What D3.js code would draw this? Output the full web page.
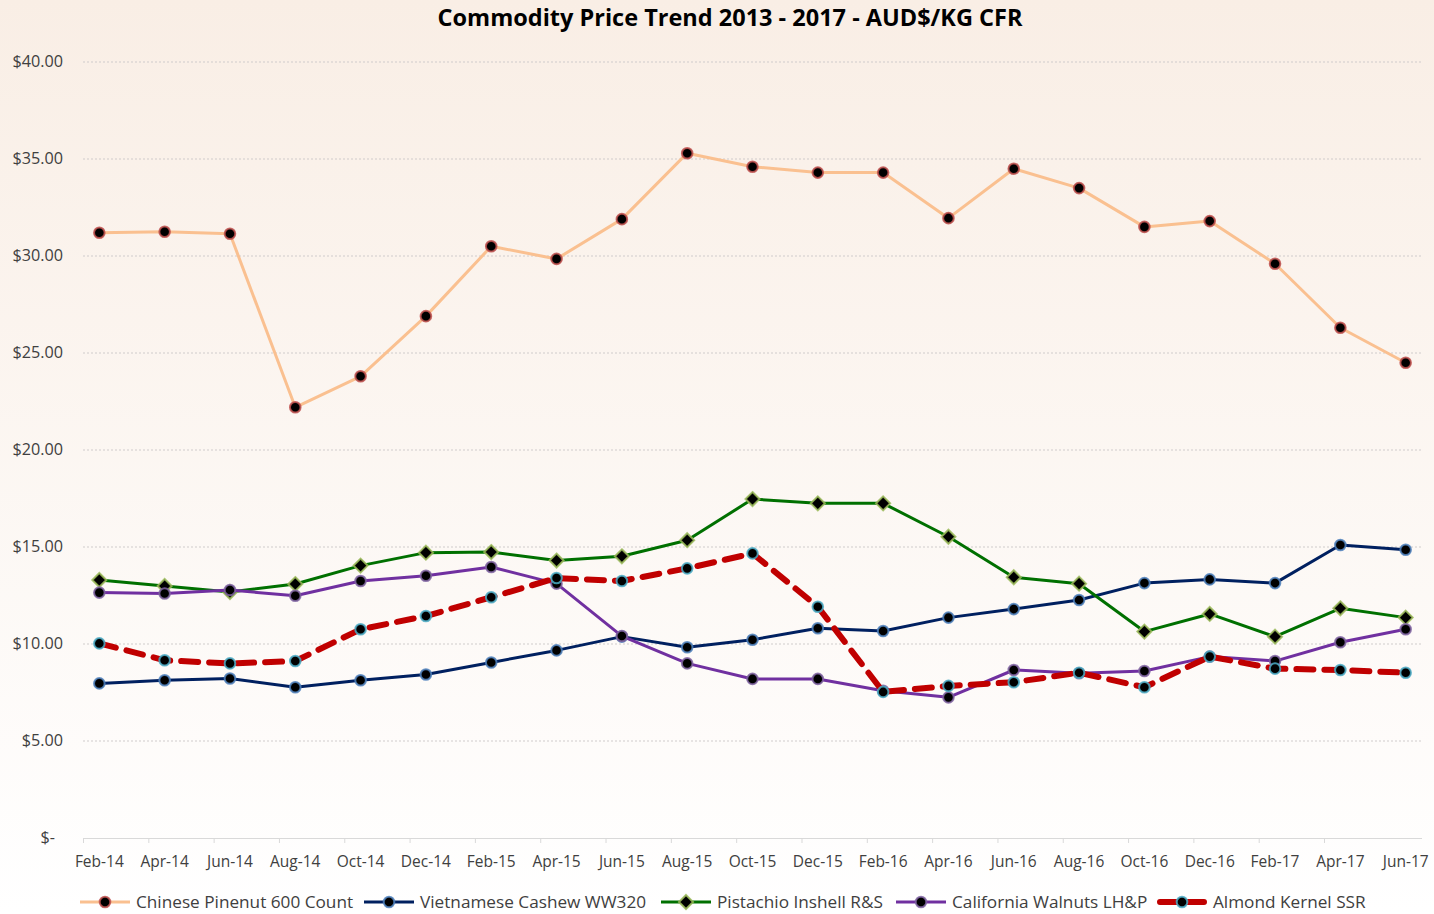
<!DOCTYPE html>
<html>
<head>
<meta charset="utf-8">
<script src="https://cdn.jsdelivr.net/npm/d3@7"></script>
<style>
	body { margin: 0; background: #fff; }
	#chart-wrap { width: 1434px; height: 914px; }
	text { font-family: "Liberation Sans Narrow", "Open Sans", "Liberation Sans", sans-serif; }
</style>
</head>
<body>
<div id="chart-wrap"></div>
<script>
//Data
const months = ["Feb-14","Apr-14","Jun-14","Aug-14","Oct-14","Dec-14","Feb-15","Apr-15","Jun-15","Aug-15","Oct-15",
	"Dec-15","Feb-16","Apr-16","Jun-16","Aug-16","Oct-16","Dec-16","Feb-17","Apr-17","Jun-17"];
const pinenut = [31.2, 31.25, 31.15, 22.2, 23.8, 26.9, 30.5, 29.85, 31.9, 35.3, 34.6, 34.3, 34.3, 31.95, 34.5, 33.5, 31.5, 31.8, 29.6, 26.3, 24.5];
const cashew = [7.97, 8.13, 8.22, 7.77, 8.13, 8.43, 9.05, 9.67, 10.38, 9.83, 10.22, 10.81, 10.67, 11.36, 11.8, 12.27, 13.14, 13.33, 13.14, 15.1, 14.86];
const pistachio = [13.3, 12.99, 12.68, 13.09, 14.04, 14.71, 14.74, 14.3, 14.52, 15.35, 17.47, 17.25, 17.25, 15.53, 13.44, 13.11, 10.64, 11.55, 10.38, 11.84, 11.36];
const walnut = [12.65, 12.6, 12.78, 12.49, 13.25, 13.52, 13.97, 13.11, 10.41, 9.0, 8.2, 8.2, 7.59, 7.25, 8.66, 8.49, 8.61, 9.35, 9.12, 10.09, 10.76];
const almond = [10.03, 9.16, 9.0, 9.12, 10.76, 11.44, 12.41, 13.4, 13.25, 13.9, 14.67, 11.92, 7.53, 7.84, 8.03, 8.52, 7.77, 9.35, 8.73, 8.66, 8.52];
const seriesNames = ["Chinese Pinenut 600 Count", "Vietnamese Cashew WW320", "Pistachio Inshell R&S", "California Walnuts LH&P", "Almond Kernel SSR"];
const yTicks = [0, 5, 10, 15, 20, 25, 30, 35, 40];

//Styles
const series = [
	{name: seriesNames[0], values: pinenut, line: "#FAC090", width: 3, dash: null, ring: "#C0504D", shape: "circle"},
	{name: seriesNames[1], values: cashew, line: "#002060", width: 3, dash: null, ring: "#4F81BD", shape: "circle"},
	{name: seriesNames[2], values: pistachio, line: "#007000", width: 3, dash: null, ring: "#9BBB59", shape: "diamond"},
	{name: seriesNames[3], values: walnut, line: "#7030A0", width: 3, dash: null, ring: "#8064A2", shape: "circle"},
	{name: seriesNames[4], values: almond, line: "#C00000", width: 6, dash: "17,11", ring: "#4BACC6", shape: "circle"}
];

const width = 1434, height = 914;
const plotLeft = 83, plotRight = 1422, plotTop = 62, plotBottom = 838;

let svg = d3.select('#chart-wrap')
	.append("svg")
	.attr("width", width)
	.attr("height", height);

	//Background gradient
let grad = svg.append("defs").append("linearGradient")
	.attr("id", "bg").attr("x1", 0).attr("y1", 0).attr("x2", 0).attr("y2", 1);
grad.append("stop").attr("offset", "0%").attr("stop-color", "#F9EEE5");
grad.append("stop").attr("offset", "100%").attr("stop-color", "#FFFFFF");
svg.append("rect").attr("width", width).attr("height", height).attr("fill", "url(#bg)");

	//Scales - month index, every point is 2 months apart
const x = d3.scaleLinear().domain([-0.5, 40.5]).range([plotLeft, plotRight]);
const y = d3.scaleLinear().domain([0, 40]).range([plotBottom, plotTop]);
let xPos = function(i) { return x(i * 2); };

	//Gridlines
svg.append("g").selectAll("line")
	.data(yTicks.filter(function(t) { return t > 0; }))
	.enter().append("line")
	.attr("x1", plotLeft).attr("x2", plotRight)
	.attr("y1", function(d) { return y(d); }).attr("y2", function(d) { return y(d); })
	.attr("stroke", "#D0CCCC").attr("stroke-width", 1.2).attr("stroke-dasharray", "2,2");

	//Y axis labels (accounting style)
let yLab = svg.append("g").attr("font-size", 16.2).attr("fill", "#404040");
yLab.selectAll("text.num")
	.data(yTicks)
	.enter().append("text")
	.attr("x", function(d) { return d === 0 ? 55 : 63; })
	.attr("y", function(d) { return y(d) + 5; })
	.attr("text-anchor", "end")
	.text(function(d) { return d === 0 ? "$-" : "$" + d3.format(".2f")(d); });

	//X axis
let xAxis = d3.axisBottom(x)
	.tickValues(d3.range(0, 20).map(function(i) { return i * 2 - 0.5; }))
	.tickSize(5)
	.tickFormat("");
let xg = svg.append("g").attr("transform", "translate(0," + plotBottom + ")").call(xAxis);
xg.select(".domain").attr("stroke", "#D9D9D9").attr("d", "M" + plotLeft + ",0.5H" + plotRight);
xg.selectAll(".tick line").attr("stroke", "#D9D9D9");
svg.append("g").selectAll("text")
	.data(months)
	.enter().append("text")
	.attr("x", function(d, i) { return xPos(i); })
	.attr("y", 867)
	.attr("text-anchor", "middle")
	.attr("font-size", 15.5)
	.attr("fill", "#404040")
	.text(function(d) { return d; });

	//Title
svg.append("text")
	.attr("x", 730).attr("y", 26)
	.attr("text-anchor", "middle")
	.attr("font-size", 23.5)
	.attr("font-weight", "bold")
	.attr("fill", "#000")
	.text("Commodity Price Trend 2013 - 2017 - AUD$/KG CFR");

	//Lines
let lineGen = d3.line()
	.x(function(d, i) { return xPos(i); })
	.y(function(d) { return y(d); });

let drawMarker = function(g, s, cx, cy) {
	if (s.shape === "diamond") {
		g.append("path")
			.attr("d", "M" + cx + "," + (cy - 7) + "L" + (cx + 7) + "," + cy + "L" + cx + "," + (cy + 7) + "L" + (cx - 7) + "," + cy + "Z")
			.attr("fill", "#000").attr("stroke", s.ring).attr("stroke-width", 2).attr("stroke-opacity", 0.85);
	} else {
		g.append("circle")
			.attr("cx", cx).attr("cy", cy).attr("r", 5.3)
			.attr("fill", "#000").attr("stroke", s.ring).attr("stroke-width", 2).attr("stroke-opacity", 0.85);
	}
};

series.forEach(function(s) {
	let g = svg.append("g");
	g.append("path")
		.datum(s.values)
		.attr("d", lineGen)
		.attr("fill", "none")
		.attr("stroke", s.line)
		.attr("stroke-width", s.width)
		.attr("stroke-linejoin", "round")
		.attr("stroke-linecap", s.dash ? "round" : "butt")
		.attr("stroke-dasharray", s.dash);
	s.values.forEach(function(v, i) { drawMarker(g, s, xPos(i), y(v)); });
});

	//Legend
const legendX = [80, 364, 661, 896, 1157];
let leg = svg.append("g");
series.forEach(function(s, i) {
	let lx = legendX[i], ly = 902;
	let g = leg.append("g");
	g.append("line")
		.attr("x1", lx + (s.dash ? 3 : 0)).attr("x2", lx + 50 - (s.dash ? 3 : 0))
		.attr("y1", ly).attr("y2", ly)
		.attr("stroke", s.line).attr("stroke-width", s.width)
		.attr("stroke-linecap", s.dash ? "round" : "butt")
		.attr("stroke-dasharray", s.dash ? "18,8" : null);
	drawMarker(g, s, lx + 25, ly);
	g.append("text")
		.attr("x", lx + 56).attr("y", ly + 6)
		.attr("font-size", 17.2)
		.attr("fill", "#404040")
		.text(s.name);
});
</script>
</body>
</html>
